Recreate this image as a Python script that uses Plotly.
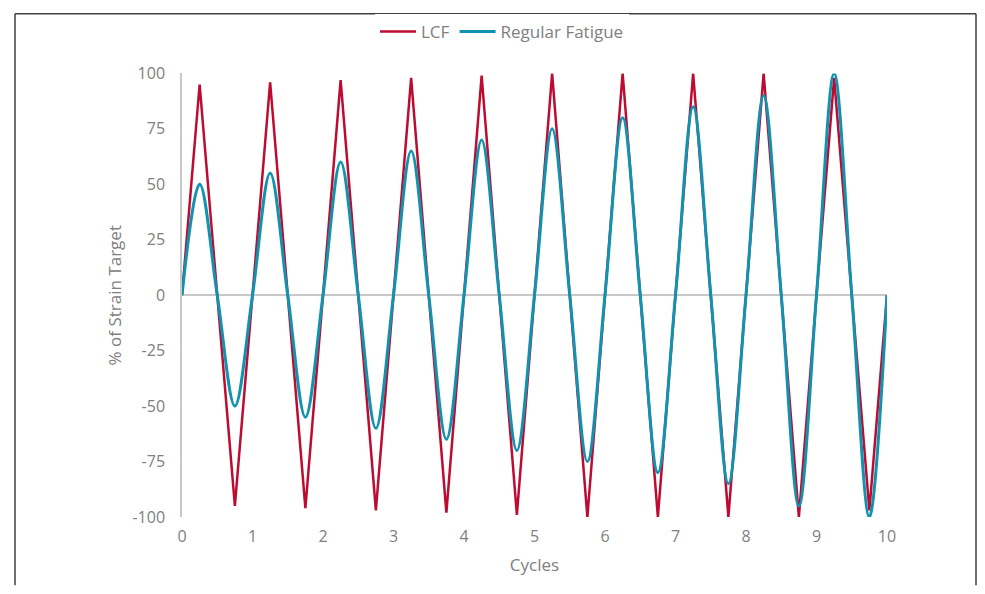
import plotly.graph_objects as go

# Quarter-cycle sample positions (cycles)
cycles = [i * 0.25 for i in range(41)]

# Peak / trough values, per cycle
lcf_peaks = [95, 96, 97, 98, 99, 100, 100, 100, 100, 98]
lcf_troughs = [-95, -96, -97, -98, -99, -100, -100, -100, -100, -97]
reg_peaks = [50, 55, 60, 65, 70, 75, 80, 85, 90, 100]
reg_troughs = [-50, -55, -60, -65, -70, -75, -80, -85, -95, -100]

x_ticks = list(range(0, 11))
y_ticks = [-100, -75, -50, -25, 0, 25, 50, 75, 100]
y_tick_text = ["-100", "-75", "-50", "-25", "0", "25", "50", "75", "100"]


def build(peaks, troughs):
    vals = [0]
    for p, t in zip(peaks, troughs):
        vals += [p, 0, t, 0]
    return vals


lcf = build(lcf_peaks, lcf_troughs)
reg = build(reg_peaks, reg_troughs)

RED = "#BE0B31"
TEAL = "#1193B0"
GREY = "#808080"
FONT = "'Open Sans', sans-serif"

W, H = 969, 578
L, T = 174, 61          # plot area left/top inside the figure
PW, PH = 705, 448       # plot area width/height

fig = go.Figure()
fig.add_trace(go.Scatter(x=cycles, y=lcf, mode="lines", name="LCF",
                         line=dict(color=RED, width=2.5, shape="linear")))
fig.add_trace(go.Scatter(x=cycles, y=reg, mode="lines", name="Regular Fatigue",
                         line=dict(color=TEAL, width=3, shape="spline", smoothing=1)))

fig.update_layout(
    width=W, height=H,
    margin=dict(l=L, r=W - L - PW, t=T, b=H - T - PH),
    paper_bgcolor="white", plot_bgcolor="white",
    font=dict(family=FONT, size=16, color=GREY),
    showlegend=True,
    legend=dict(orientation="h", xref="container", yref="container",
                x=(502 - 8) / W, y=1 - 24 / H, xanchor="center", yanchor="middle",
                font=dict(size=17, color=GREY), itemwidth=36),
    xaxis=dict(range=[0, 10], tickvals=x_ticks, showgrid=False, zeroline=False,
               showline=False, ticks="", ticklabelstandoff=8,
               title=dict(text="Cycles", font=dict(size=17, color=GREY), standoff=13),
               tickfont=dict(size=16, color=GREY)),
    yaxis=dict(range=[-100, 100], tickvals=y_ticks, ticktext=y_tick_text,
               showgrid=False,
               zeroline=True, zerolinecolor="#C8C8C8", zerolinewidth=1.5,
               showline=True, linecolor="#C8C8C8", linewidth=1.5, ticks="",
               ticklabelstandoff=12,
               title=dict(text="% of Strain Target", font=dict(size=17, color=GREY), standoff=6),
               tickfont=dict(size=16, color=GREY)),
)

# Outer chart-area border: left, top and right edges (bottom lies outside the view)
bx0 = (7 - L) / PW
bx1 = (W - 1 - L) / PW
by_top = (T + PH - 0.75) / PH
by_bot = (T + PH - H) / PH
border = dict(color="#404040", width=1.5)
for x0, y0, x1, y1 in [(bx0, by_bot, bx0, by_top),
                       (bx0, by_top, bx1, by_top),
                       (bx1, by_top, bx1, by_bot)]:
    fig.add_shape(type="line", xref="paper", yref="paper",
                  x0=x0, y0=y0, x1=x1, y1=y1, line=border, layer="below")

fig.write_html("out.html")
